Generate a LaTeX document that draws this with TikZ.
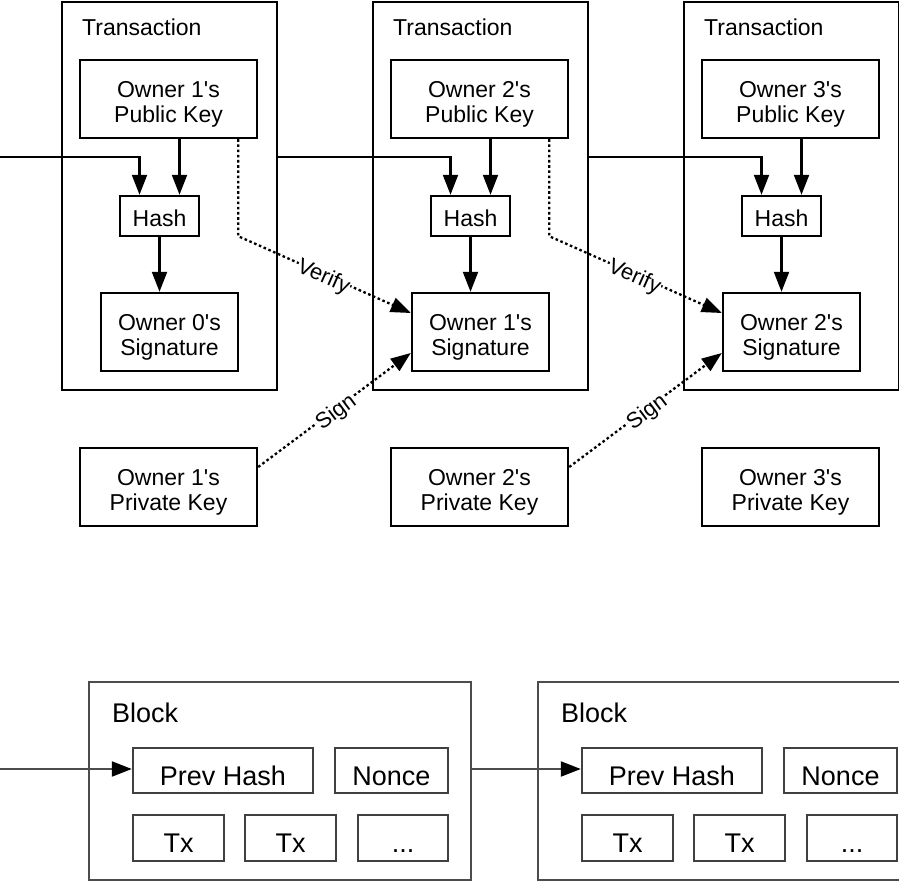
\documentclass[tikz,border=0pt]{standalone}
\usepackage{fontspec}
\setmainfont{Liberation Sans}
\usetikzlibrary{arrows.meta,calc}

% two centred lines, set a little below the middle of their box
\newcommand\twolines[2]{\raisebox{-6pt}[\height][\depth]{%
  \begin{tabular}{@{}c@{}}#1\\#2\end{tabular}}}
\newcommand\ap{\textquotesingle}

\tikzset{
  box/.style={draw, line width=2.4pt, inner sep=0pt, align=center,
              font=\fontsize{23}{25}\selectfont},
  txbox/.style={draw, line width=2.2pt, minimum width=215pt, minimum height=388pt, inner sep=0pt},
  keybox/.style={box, minimum width=177pt, minimum height=78pt},
  hashbox/.style={box, minimum width=79pt, minimum height=40pt,
                  text height=20.5pt, text depth=0pt},
  sigbox/.style={box, minimum width=137pt, minimum height=78pt},
  title/.style={anchor=base west, inner sep=0pt, font=\fontsize{23}{25}\selectfont},
  tip/.style={-{Triangle[length=20pt,width=15pt]}},
  arr/.style={line width=2.2pt, tip},
  dotarr/.style={line width=2.3pt, dash pattern=on 2.6pt off 2.6pt, tip},
  lbl/.style={sloped, midway, fill=white, inner sep=0.5pt, yshift=-3pt,
              font=\fontsize{22}{24}\selectfont},
  blk/.style={draw=black!70, line width=2.2pt},
  bbox/.style={draw=black!75, line width=2.4pt, inner sep=0pt,
               font=\fontsize{27}{29}\selectfont, minimum height=45pt,
               text height=29pt, text depth=0pt},
  barr/.style={draw=black!70, line width=2.2pt,
               -{Triangle[length=20pt,width=15pt,color=black]}}
}

\begin{document}
\begin{tikzpicture}[x=1pt,y=-1pt]
\useasboundingbox (0,0) rectangle (899,882);
\clip (0,0) rectangle (899,882);

% ---- three transactions ----
\foreach \i/\dx in {1/0,2/311,3/622}{
  \node[txbox] (t\i) at (169.5+\dx,196) {};
  \node[title] (tt\i) at (82+\dx,36) {Transaction};
  \node[hashbox] (hash\i) at (159.5+\dx,216) {Hash};
}
\node[keybox] (pk1) at (168.5,99) {\twolines{Owner 1\ap s}{Public Key}};
\node[keybox] (pk2) at (479.5,99) {\twolines{Owner 2\ap s}{Public Key}};
\node[keybox] (pk3) at (790.5,99) {\twolines{Owner 3\ap s}{Public Key}};
\node[sigbox] (sig1) at (169.5,332) {\twolines{Owner 0\ap s}{Signature}};
\node[sigbox] (sig2) at (480.5,332) {\twolines{Owner 1\ap s}{Signature}};
\node[sigbox] (sig3) at (791.5,332) {\twolines{Owner 2\ap s}{Signature}};
\node[keybox] (sk1) at (168.5,487) {\twolines{Owner 1\ap s}{Private Key}};
\node[keybox] (sk2) at (479.5,487) {\twolines{Owner 2\ap s}{Private Key}};
\node[keybox] (sk3) at (790.5,487) {\twolines{Owner 3\ap s}{Private Key}};

% hash inputs: previous transaction and next owner's key
\coordinate (in0) at (0,157);
\draw[arr] (in0) -| ([xshift=-20pt]hash1.north);
\draw[arr] (t1.east |- in0) -| ([xshift=-20pt]hash2.north);
\draw[arr] (t2.east |- in0) -| ([xshift=-20pt]hash3.north);
\foreach \i in {1,2,3}{
  \draw[arr] ([xshift=20pt]hash\i.north |- pk\i.south) -- ([xshift=20pt]hash\i.north);
  \draw[arr] (hash\i.south) -- (hash\i.south |- sig\i.north);
}

% verify and sign links
\draw[dotarr] ([xshift=-20pt]pk1.south east) -- ++(0,97)
  -- node[lbl] {Verify} ([yshift=19pt]sig2.west);
\draw[dotarr] ([xshift=-20pt]pk2.south east) -- ++(0,97)
  -- node[lbl] {Verify} ([yshift=19pt]sig3.west);
\draw[dotarr] ([yshift=20pt]sk1.east) -- node[lbl] {Sign} ([yshift=-21pt]sig2.west);
\draw[dotarr] ([yshift=20pt]sk2.east) -- node[lbl] {Sign} ([yshift=-21pt]sig3.west);

% ---- blocks ----
\foreach \j/\dx in {1/0,2/449}{
  \node[blk, minimum width=382pt, minimum height=198pt, inner sep=0pt] (b\j) at (280+\dx,781) {};
  \node[title, font=\fontsize{27}{29}\selectfont] (bt\j) at (112+\dx,722) {Block};
  \node[bbox, minimum width=180pt] (ph\j) at (223+\dx,770.5) {Prev Hash};
  \node[bbox, minimum width=113pt] (nc\j) at (391.5+\dx,770.5) {Nonce};
  \node[bbox, minimum width=91pt, minimum height=46pt] (txa\j) at (178.5+\dx,838) {Tx};
  \node[bbox, minimum width=91pt, minimum height=46pt] (txb\j) at (290.5+\dx,838) {Tx};
  \node[bbox, minimum width=90pt, minimum height=46pt] (txc\j) at (403+\dx,838) {...};
}
\coordinate (bin0) at (0,769);
\draw[barr] (bin0) -- (bin0 -| ph1.west);
\draw[barr] (b1.east |- bin0) -- (bin0 -| ph2.west);
\end{tikzpicture}
\end{document}
